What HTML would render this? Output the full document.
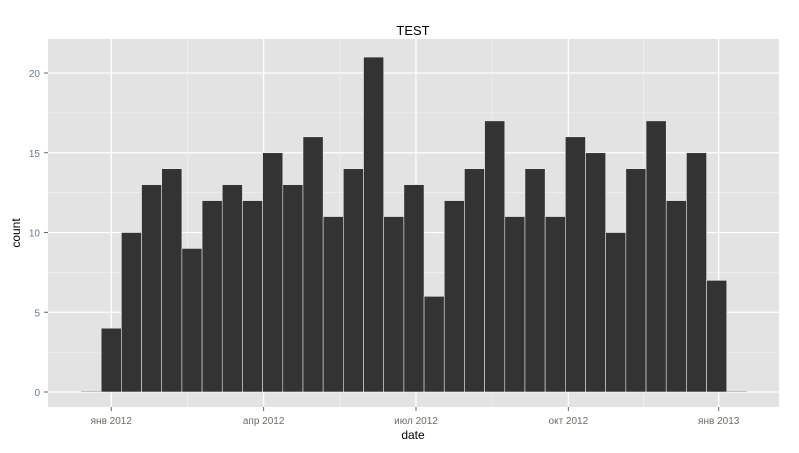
<!DOCTYPE html>
<html><head><meta charset="utf-8"><style>
body{margin:0;background:#fff;}
svg{display:block;font-family:"Liberation Sans","DejaVu Sans",sans-serif;}
</style></head><body>
<svg id="chart" width="799" height="453">
<rect x="48" y="39" width="731" height="368" fill="#e3e3e3"/>
<g id="grid"></g><g id="bars"></g><g id="axes"></g>
<text x="413" y="35" text-anchor="middle" font-size="13" fill="#000">TEST</text>
<text x="413" y="439" text-anchor="middle" font-size="12" fill="#000">date</text>
<text x="0" y="0" transform="translate(20,233) rotate(-90)" text-anchor="middle" font-size="12" fill="#000">count</text>
</svg>
<script>
const counts=[0,4,10,13,14,9,12,13,12,15,13,16,11,14,21,11,13,6,12,14,17,11,14,11,16,15,10,14,17,12,15,7,0];
const yTicks=[0,5,10,15,20];
const xTickLabels=["янв 2012","апр 2012","июл 2012","окт 2012","янв 2013"];
const xTickIdx=[1.5,9.05,16.6,24.15,31.6];
const NS="http://www.w3.org/2000/svg";
const x0=81,bw=20.18;
const xs=i=>x0+i*bw;
const ys=v=>392-v*15.95;
function mk(tag,attrs,parent){const e=document.createElementNS(NS,tag);for(const k in attrs)e.setAttribute(k,attrs[k]);parent.appendChild(e);return e;}
const grid=document.getElementById('grid'),bars=document.getElementById('bars'),axes=document.getElementById('axes');
// minor y grid
for(let v=-2.5;v<=22.5;v+=5){const y=ys(v);if(y<39||y>407)continue;
 const l=mk('line',{x1:48,x2:779,y1:y,y2:y,stroke:'#f1f1f1','stroke-width':0.8},grid);
 
 }
yTicks.forEach(v=>{const y=ys(v);
 const l=mk('line',{x1:48,x2:779,y1:y,y2:y,stroke:'#fff','stroke-width':1.3},grid);
 
 
 const t=mk('text',{x:40,y:y+4,'text-anchor':'end','font-size':10,fill:'#6e7a87'},axes);t.textContent=v;
 
 
 mk('line',{x1:44,x2:48,y1:y,y2:y,stroke:'#666'},axes);});
const xpos=xTickIdx.map(xs);
for(let i=0;i<xpos.length-1;i++){const m=(xpos[i]+xpos[i+1])/2;
 const l=mk('line',{x1:m,x2:m,y1:39,y2:407,stroke:'#f1f1f1','stroke-width':0.8},grid);
 
 }
xpos.forEach((x,i)=>{
 const l=mk('line',{x1:x,x2:x,y1:39,y2:407,stroke:'#fff','stroke-width':1.3},grid);
 
 
 mk('line',{x1:x,x2:x,y1:407,y2:411,stroke:'#666'},axes);
 const t=mk('text',{x:x,y:424,'text-anchor':'middle','font-size':10,fill:'#6e6a66'},axes);t.textContent=xTickLabels[i];
 
 });
counts.forEach((c,i)=>{const y=ys(c);
 const r=mk('rect',{x:xs(i),y:Math.min(y,391.5),width:bw,height:Math.max(392-y,0.5),fill:c?'#333':'#999',stroke:c?'#e8e8e8':'none','stroke-width':0.6},bars);
 
 });
</script>
</body></html>
